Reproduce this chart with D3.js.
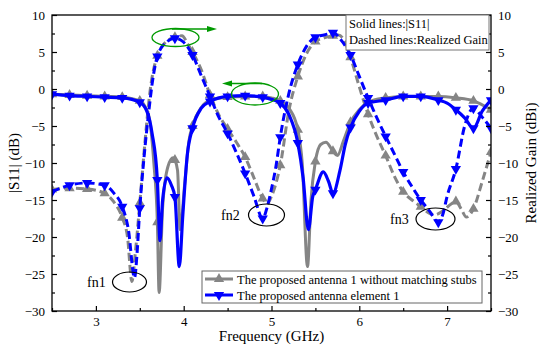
<!DOCTYPE html>
<html>
<head>
  <meta charset="utf-8" />
  <style>
    body { margin: 0; background: #ffffff; }
    svg text { font-family: 'Liberation Serif', 'Times New Roman', serif; fill: #000; }
  </style>
  <script type="text/javascript" src="https://cdnjs.cloudflare.com/ajax/libs/d3/7.8.5/d3.min.js"></script>
</head>
<body>
  <div id="chart"></div>
  <script type="text/javascript">
    // |S11| of the antenna without stubs (gray) and of element 1 (blue)
    var s11GrayF = [2.5, 2.7, 2.9, 3.1, 3.3, 3.5, 3.6, 3.66, 3.7, 3.72, 3.76, 3.82, 3.88, 3.9, 3.93, 3.96, 4.01, 4.06, 4.1, 4.2, 4.3, 4.5, 4.7, 4.9, 5.0, 5.1, 5.2, 5.3, 5.35, 5.41, 5.45, 5.5, 5.56, 5.62, 5.7, 5.75, 5.82, 5.9, 6.0, 6.1, 6.3, 6.5, 6.7, 6.9, 7.1, 7.3, 7.5];
    var s11Gray  = [-0.7, -0.8, -0.9, -1.0, -1.1, -1.6, -3.5, -10, -18, -27.5, -16, -10.5, -9.3, -9.6, -11, -19, -13, -7, -5.0, -2.5, -1.5, -1.1, -1.0, -1.0, -1.2, -1.6, -2.6, -5.5, -10, -24, -15, -9.8, -7.5, -7.2, -8.4, -9.0, -7, -4.5, -2.8, -1.8, -1.2, -1.0, -1.0, -1.0, -1.2, -1.6, -2.8];
    var s11BlueF = [2.5, 2.7, 2.9, 3.1, 3.3, 3.5, 3.58, 3.64, 3.7, 3.73, 3.76, 3.81, 3.86, 3.9, 3.95, 3.99, 4.04, 4.1, 4.2, 4.3, 4.5, 4.7, 4.9, 5.0, 5.1, 5.2, 5.3, 5.36, 5.42, 5.47, 5.5, 5.59, 5.65, 5.7, 5.78, 5.84, 5.9, 6.0, 6.1, 6.3, 6.5, 6.7, 6.9, 7.0, 7.1, 7.2, 7.3, 7.4, 7.5];
    var s11Blue  = [-0.7, -0.9, -1.0, -1.1, -1.2, -1.8, -3.0, -6, -12.3, -20.5, -15, -12.0, -13, -14.6, -24, -17, -9, -5.3, -2.6, -1.7, -1.0, -0.9, -1.1, -1.4, -1.9, -3.5, -7.3, -12, -19, -14.5, -13.6, -11.2, -12.5, -14.1, -11, -7.5, -5.2, -3.0, -1.9, -1.5, -1.0, -1.0, -1.5, -1.9, -2.8, -3.9, -5.3, -3.0, -1.5];

    // realized gain, same two antennas
    var gainGrayF = [2.5, 2.7, 2.9, 3.1, 3.2, 3.3, 3.36, 3.41, 3.45, 3.5, 3.56, 3.62, 3.7, 3.75, 3.8, 3.9, 3.98, 4.05, 4.1, 4.2, 4.3, 4.4, 4.5, 4.6, 4.7, 4.8, 4.9, 4.95, 5.0, 5.1, 5.2, 5.3, 5.4, 5.5, 5.6, 5.7, 5.76, 5.84, 5.9, 6.0, 6.1, 6.2, 6.3, 6.4, 6.5, 6.6, 6.7, 6.8, 6.86, 6.95, 7.05, 7.1, 7.16, 7.22, 7.3, 7.4, 7.5];
    var gainGray  = [-13.6, -13.4, -13.5, -14.1, -15.2, -17.4, -20, -26.0, -22, -15.4, -7, 0, 4.5, 5.7, 6.4, 7.0, 7.2, 6.0, 5.0, 2.6, -0.8, -3.5, -5.4, -7.2, -9.2, -12, -14.8, -15.5, -14.5, -10.3, -2.8, 1.7, 4.8, 6.4, 6.9, 7.2, 7.3, 6.3, 4.3, 0.3, -3.4, -6.4, -9.0, -11.8, -13.9, -15.0, -15.9, -16.8, -17.0, -16.5, -15.5, -15.2, -16.2, -17.3, -16.2, -12.5, -8.5];
    var gainBlueF = [2.5, 2.7, 2.9, 3.1, 3.2, 3.3, 3.37, 3.44, 3.47, 3.5, 3.55, 3.6, 3.65, 3.7, 3.8, 3.9, 3.98, 4.1, 4.2, 4.3, 4.4, 4.5, 4.6, 4.7, 4.8, 4.9, 4.95, 5.0, 5.05, 5.1, 5.2, 5.3, 5.4, 5.5, 5.6, 5.7, 5.8, 5.9, 6.0, 6.1, 6.2, 6.3, 6.4, 6.5, 6.6, 6.7, 6.8, 6.9, 6.95, 7.0, 7.1, 7.2, 7.3, 7.4, 7.5];
    var gainBlue  = [-13.9, -13.0, -12.7, -13.0, -14.0, -15.9, -19, -25.5, -22, -16.1, -9, -3.3, 1.5, 4.4, 6.3, 6.85, 6.5, 4.6, 1.8, -1.0, -3.8, -6.0, -8.6, -11.4, -14.5, -17.5, -16.0, -13.5, -10.5, -6.5, -0.5, 3.3, 5.8, 7.0, 7.3, 7.6, 6.5, 4.6, 1.7, -1.2, -3.9, -6.4, -8.8, -11.2, -13.2, -15.0, -16.5, -18.0, -17.0, -14.5, -10.8, -5.0, -2.6, -3.8, -5.3];

    var xTicks = [3, 4, 5, 6, 7];
    var yTicks = [-30, -25, -20, -15, -10, -5, 0, 5, 10];
    var legendNames = ["The proposed antenna 1 without matching stubs", "The proposed antenna element 1"];
    var noteLines = ["Solid lines:|S11|", "Dashed lines:Realized Gain"];
    var fnLabels = ["fn1", "fn2", "fn3"];

    var W = 550, H = 352;
    var padL = 52, padR = 491, padT = 15, padB = 311;
    var gray = "#858585", blue = "#0000ff", green = "#009a00";

    var x = d3.scaleLinear().domain([2.5, 7.5]).range([padL, padR]);
    var y = d3.scaleLinear().domain([-30, 10]).range([padB, padT]);

    var svg = d3.select("#chart").append("svg")
      .attr("width", W).attr("height", H);

    svg.append("clipPath").attr("id", "plotclip")
      .append("rect").attr("x", padL).attr("y", padT)
      .attr("width", padR - padL).attr("height", padB - padT);

    function pairs(fs, vs) {
      return fs.map(function (f, i) { return { f: f, v: vs[i] }; });
    }
    // markers sit on the odd tenths (2.7, 2.9, ...)
    function markerPts(pts) {
      return pts.filter(function (d) {
        var k = d.f * 10;
        return Math.abs(k - Math.round(k)) < 1e-6 && Math.round(k) % 2 === 1;
      });
    }

    var line = d3.line()
      .x(function (d) { return x(d.f); })
      .y(function (d) { return y(d.v); })
      .curve(d3.curveMonotoneX);

    var triUp = d3.symbol().type(d3.symbolTriangle).size(46);

    var series = [
      { pts: pairs(s11GrayF, s11Gray), color: gray, dash: null, down: false, w: 3 },
      { pts: pairs(gainGrayF, gainGray), color: gray, dash: "8,4", down: false, w: 3 },
      { pts: pairs(s11BlueF, s11Blue), color: blue, dash: null, down: true, w: 3.2 },
      { pts: pairs(gainBlueF, gainBlue), color: blue, dash: "8,4", down: true, w: 3 }
    ];

    var plot = svg.append("g").attr("clip-path", "url(#plotclip)");

    series.forEach(function (s) {
      plot.append("path")
        .datum(s.pts)
        .attr("d", line)
        .attr("fill", "none")
        .attr("stroke", s.color)
        .attr("stroke-width", s.w)
        .attr("stroke-dasharray", s.dash);
      plot.append("g")
        .selectAll("path")
        .data(markerPts(s.pts))
        .enter()
        .append("path")
        .attr("d", triUp)
        .attr("transform", function (d) {
          return "translate(" + x(d.f) + "," + y(d.v) + ")" + (s.down ? " rotate(180)" : "");
        })
        .attr("fill", s.color);
    });

    // frame
    svg.append("rect")
      .attr("x", padL).attr("y", padT)
      .attr("width", padR - padL).attr("height", padB - padT)
      .attr("fill", "none").attr("stroke", "#000").attr("stroke-width", 1.3);

    // axes, ticks pointing inward
    var minorY = d3.range(-27.5, 10, 5);
    var minorX = d3.range(2.5, 7.6, 0.5).filter(function (v) { return xTicks.indexOf(v) < 0; });

    function styleAxis(g) {
      g.select(".domain").remove();
      g.selectAll("line").attr("stroke", "#000").attr("stroke-width", 1.2);
      g.selectAll("text").attr("font-size", "13px")
        .attr("font-family", "'Liberation Serif', 'Times New Roman', serif");
    }

    svg.append("g").attr("transform", "translate(" + padL + ",0)")
      .call(d3.axisLeft(y).tickValues(yTicks).tickSize(-5).tickPadding(7))
      .call(styleAxis);
    svg.append("g").attr("transform", "translate(" + padL + ",0)")
      .call(d3.axisLeft(y).tickValues(minorY).tickSize(-3).tickFormat(""))
      .call(styleAxis);
    svg.append("g").attr("transform", "translate(" + padR + ",0)")
      .call(d3.axisRight(y).tickValues(yTicks).tickSize(-5).tickPadding(7))
      .call(styleAxis);
    svg.append("g").attr("transform", "translate(" + padR + ",0)")
      .call(d3.axisRight(y).tickValues(minorY).tickSize(-3).tickFormat(""))
      .call(styleAxis);
    svg.append("g").attr("transform", "translate(0," + padB + ")")
      .call(d3.axisBottom(x).tickValues(xTicks).tickSize(-5).tickPadding(6).tickFormat(d3.format("d")))
      .call(styleAxis);
    svg.append("g").attr("transform", "translate(0," + padB + ")")
      .call(d3.axisBottom(x).tickValues(minorX).tickSize(-3).tickFormat(""))
      .call(styleAxis);

    // axis titles
    svg.append("text")
      .attr("x", (padL + padR) / 2).attr("y", 341)
      .attr("text-anchor", "middle").attr("font-size", "15px")
      .text("Frequency (GHz)");
    svg.append("text")
      .attr("transform", "translate(19," + ((padT + padB) / 2) + ") rotate(-90)")
      .attr("text-anchor", "middle").attr("font-size", "15px")
      .text("|S11| (dB)");
    svg.append("text")
      .attr("transform", "translate(536," + ((padT + padB) / 2) + ") rotate(-90)")
      .attr("text-anchor", "middle").attr("font-size", "15px")
      .text("Realized Gain (dBi)");

    // note box top right
    var note = svg.append("g");
    note.append("rect")
      .attr("x", 346).attr("y", padT).attr("width", padR - 2 - 346).attr("height", 35)
      .attr("fill", "#fff").attr("stroke", "#777").attr("stroke-width", 1);
    note.selectAll("text").data(noteLines).enter().append("text")
      .attr("x", 349).attr("y", function (d, i) { return 28 + i * 16; })
      .attr("font-size", "12.5px")
      .text(function (d) { return d; });

    // legend
    var leg = svg.append("g");
    leg.append("rect")
      .attr("x", 202).attr("y", 271).attr("width", 280).attr("height", 32)
      .attr("fill", "#fff").attr("stroke", "#666").attr("stroke-width", 1);
    [gray, blue].forEach(function (c, i) {
      var ly = 279 + i * 16;
      leg.append("line")
        .attr("x1", 205).attr("x2", 233).attr("y1", ly).attr("y2", ly)
        .attr("stroke", c).attr("stroke-width", 3);
      leg.append("path")
        .attr("d", triUp)
        .attr("transform", "translate(219," + ly + ")" + (i === 1 ? " rotate(180)" : ""))
        .attr("fill", c);
      leg.append("text")
        .attr("x", 237).attr("y", ly + 4.5)
        .attr("font-size", "12.5px")
        .text(legendNames[i]);
    });

    // fn circles and labels
    var fnMarks = [
      { cx: 129.5, cy: 282, rx: 17, ry: 10, tx: 87, ty: 287 },
      { cx: 266.5, cy: 215, rx: 18, ry: 11, tx: 221, ty: 220 },
      { cx: 435.5, cy: 219, rx: 19.5, ry: 11, tx: 390, ty: 224 }
    ];
    fnMarks.forEach(function (m, i) {
      svg.append("ellipse")
        .attr("cx", m.cx).attr("cy", m.cy).attr("rx", m.rx).attr("ry", m.ry)
        .attr("fill", "none").attr("stroke", "#000").attr("stroke-width", 1.2);
      svg.append("text")
        .attr("x", m.tx).attr("y", m.ty).attr("font-size", "14px")
        .text(fnLabels[i]);
    });

    // green ellipses with arrows pointing to the axis they belong to
    svg.append("ellipse")
      .attr("cx", 175.5).attr("cy", 37.5).attr("rx", 23.5).attr("ry", 9)
      .attr("fill", "none").attr("stroke", green).attr("stroke-width", 1.3);
    svg.append("ellipse")
      .attr("cx", 255).attr("cy", 94).attr("rx", 23.5).attr("ry", 11)
      .attr("fill", "none").attr("stroke", green).attr("stroke-width", 1.3);

    function arrow(x1, x2, yy) {
      var dir = x2 > x1 ? 1 : -1;
      svg.append("line")
        .attr("x1", x1).attr("x2", x2 - dir * 6).attr("y1", yy).attr("y2", yy)
        .attr("stroke", green).attr("stroke-width", 1.3);
      svg.append("path")
        .attr("d", "M" + x2 + "," + yy + " L" + (x2 - dir * 10) + "," + (yy - 3) +
          " L" + (x2 - dir * 10) + "," + (yy + 3) + " Z")
        .attr("fill", green);
    }
    arrow(172, 217, 29);
    arrow(262, 222, 83.5);
  </script>
</body>
</html>
